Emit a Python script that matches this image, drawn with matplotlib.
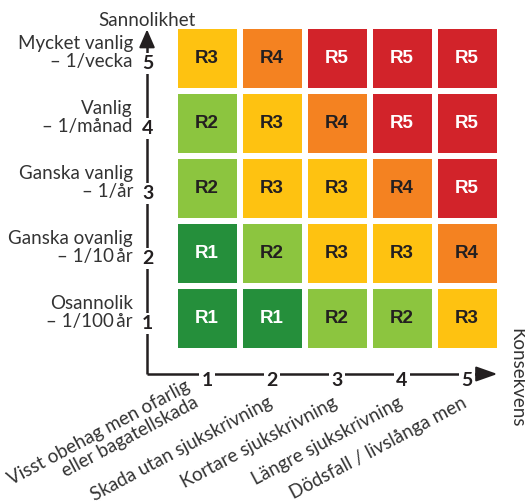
import matplotlib
matplotlib.use("Agg")
import matplotlib.pyplot as plt
from matplotlib.patches import Rectangle, FancyArrowPatch

# Data: probability levels (rows, 1 = bottom) and consequence levels (columns)
prob_levels = [1, 2, 3, 4, 5]
cons_levels = [1, 2, 3, 4, 5]
prob_labels = [
    "Osannolik\n\u2013 1/100\u2009år",
    "Ganska ovanlig\n\u2013 1/10\u2009år",
    "Ganska vanlig\n\u2013 1/år",
    "Vanlig\n\u2013 1/månad",
    "Mycket vanlig\n\u2013 1/vecka",
]
cons_labels = [
    "Visst obehag men ofarlig\neller bagatellskada",
    "Skada utan sjukskrivning",
    "Kortare sjukskrivning",
    "Längre sjukskrivning",
    "Dödsfall / livslånga men",
]
# risk class, one row per probability level (1..5), columns = consequence 1..5
risk = [
    [1, 1, 2, 2, 3],
    [1, 2, 3, 3, 4],
    [2, 3, 3, 4, 5],
    [2, 3, 4, 5, 5],
    [3, 4, 5, 5, 5],
]
risk_colors = {1: "#258F3B", 2: "#8CC53F", 3: "#FEC211", 4: "#F48221", 5: "#D2232A"}
risk_text = {1: "white", 2: "#231F20", 3: "#231F20", 4: "#231F20", 5: "white"}

plt.rcParams["font.family"] = ["Lato", "DejaVu Sans"]
txt = "#333333"
axis_col = "#231F20"
fs = 13.5

fig = plt.figure(figsize=(5.25, 5.01), dpi=100)
ax = fig.add_axes([0, 0, 1, 1])
# one data unit = one cell pitch (65 px)
ax.set_xlim(-2.185, 5.892)
ax.set_ylim(-1.808, 5.9)
ax.axis("off")

cell = 0.908
for i, p in enumerate(prob_levels):
    for j, c in enumerate(cons_levels):
        r = risk[i][j]
        ax.add_patch(Rectangle((c - cell / 2, p - cell / 2), cell, cell,
                               facecolor=risk_colors[r], edgecolor="none", zorder=1))
        ax.text(c, p, f"R{r}", ha="center", va="center", fontsize=13.5,
                fontweight="bold", family="Liberation Sans", color=risk_text[r], zorder=2)

# axes with arrows
x0, y0 = 0.077, 0.146
ax.plot([x0, x0], [y0, 5.3], color=axis_col, lw=1.8, solid_capstyle="butt", zorder=3)
ax.plot([x0, 5.3], [y0, y0], color=axis_col, lw=1.8, solid_capstyle="butt", zorder=3)
ax.add_patch(FancyArrowPatch((x0, 5.2), (x0, 5.49), arrowstyle="-|>,head_length=11,head_width=4.8",
                             mutation_scale=1, color=axis_col, lw=1.5, zorder=3))
ax.add_patch(FancyArrowPatch((5.2, y0), (5.51, y0), arrowstyle="-|>,head_length=13,head_width=4.6",
                             mutation_scale=1, color=axis_col, lw=1.5, zorder=3))

box = dict(facecolor="white", edgecolor="none", pad=1.5)
for p, lab in zip(prob_levels, prob_labels):
    ax.text(x0 + 0.01, p - 0.16, str(p), ha="center", va="baseline", fontsize=14,
            fontweight="bold", color=axis_col, bbox=box, zorder=4)
    ax.text(-0.14, p - 0.13, lab, ha="right", va="baseline", fontsize=fs,
            color=txt, linespacing=1.05, multialignment="right")

for c, lab in zip(cons_levels, cons_labels):
    ax.text(c, 0.04, str(c), ha="center", va="center", fontsize=14,
            fontweight="bold", color=axis_col, bbox=box, zorder=4)
    # two-line label sits a little further back along its baseline
    if "\n" in lab:
        lx, ly = c - 0.12, -0.33
    else:
        lx, ly = c + 0.02, -0.35
    ax.text(lx, ly, lab, ha="right", va="baseline", rotation=28,
            rotation_mode="anchor", fontsize=fs, color=txt,
            linespacing=1.12, multialignment="right")

ax.text(x0, 5.59, "Sannolikhet", ha="center", va="center", fontsize=fs, color=txt)
ax.text(5.77, 0.085, "Konsekvens", ha="center", va="center", rotation=-90,
        fontsize=fs, color=txt)

fig.savefig("out.png", dpi=100)
